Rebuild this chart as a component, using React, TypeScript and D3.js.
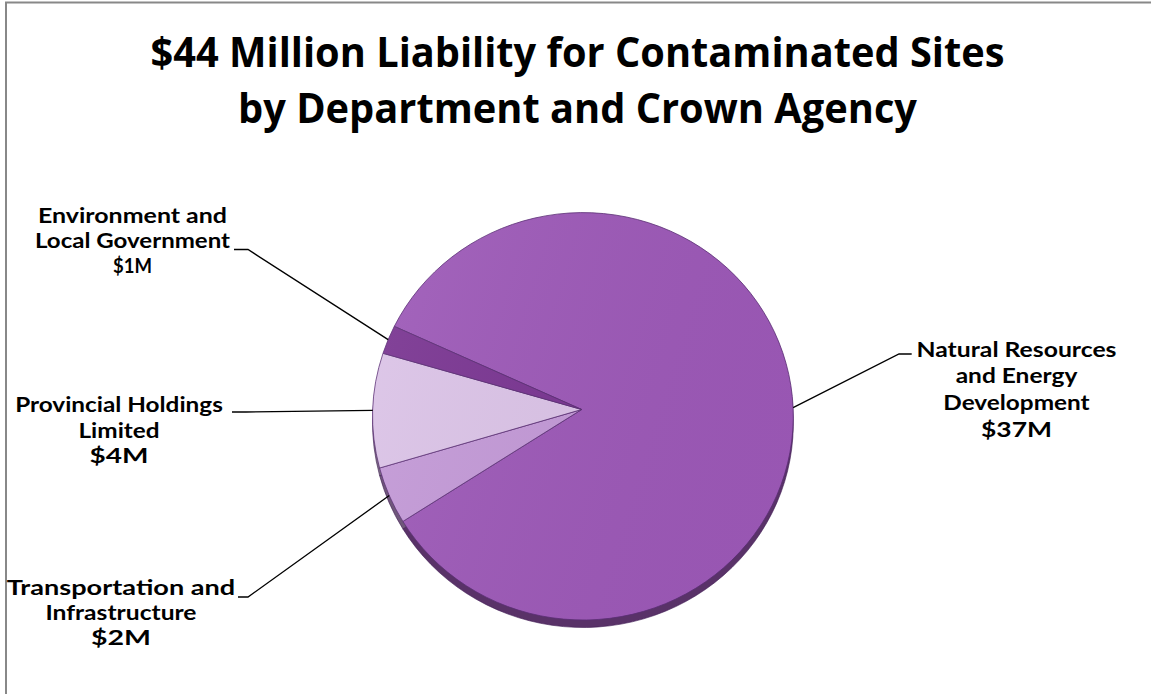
import React from "react";
import * as d3 from "d3";

// ---- Data ----
const titleLines = ["$44 Million Liability for Contaminated Sites", "by Department and Crown Agency"];
const categories = [
  "Natural Resources and Energy Development",
  "Transportation and Infrastructure",
  "Provincial Holdings Limited",
  "Environment and Local Government",
];
const values = [37, 2, 4, 1];
const valueLabels = ["$37M", "$2M", "$4M", "$1M"];
const labelLines = [
  ["Natural Resources", "and Energy", "Development"],
  ["Transportation and", "Infrastructure"],
  ["Provincial Holdings", "Limited"],
  ["Environment and", "Local Government"],
];
const sliceColors = ["#9d59b8", "#c49ad8", "#dcc4e8", "#7a3592"];

// ---- Layout ----
const W = 1151;
const H = 694;
const CX = 583;
const CY = 416.3;
const RX = 210.3;
const RY = 203.7;
const APEX = { x: 581.7, y: 409.5 };
const DEPTH = 7.5;
const START = (-63.8 * Math.PI) / 180;
const TITLE_FONT = "'Open Sans', 'Liberation Sans', sans-serif";
const LABEL_FONT = "Lato, 'Open Sans', 'Liberation Sans', sans-serif";

// label layout: centre x, first baseline, line gap, per-line widths, leader anchor
const labelLayout = [
  { cx: 1016.5, y0: 356.7, gap: 26.7, widths: [200, 121.7, 146.3, 71], dash: [911.7, 899, 354] },
  { cx: 121, y0: 595, gap: 25.2, widths: [228.3, 151, 60], dash: [238, 248, 597] },
  { cx: 119, y0: 412.3, gap: 25.5, widths: [207.7, 81, 59], dash: [232, 246, 412] },
  { cx: 132.5, y0: 222.5, gap: 25.3, widths: [189, 195, 39], dash: [234, 248, 249.5] },
];

function ellPt(a: number, dy = 0): [number, number] {
  return [CX + RX * Math.sin(a), CY - RY * Math.cos(a) + dy];
}

function slicePath(a0: number, a1: number, dy = 0): string {
  const p0 = ellPt(a0, dy);
  const p1 = ellPt(a1, dy);
  const large = a1 - a0 > Math.PI ? 1 : 0;
  return `M${APEX.x},${APEX.y + dy}L${p0[0]},${p0[1]}A${RX},${RY} 0 ${large} 1 ${p1[0]},${p1[1]}Z`;
}

export default function App() {
  const arcs = d3
    .pie<number>()
    .sort(null)
    .startAngle(START)
    .endAngle(START + 2 * Math.PI)(values);

  const titleWidths = [854, 679];

  return (
    <svg
      width={W}
      height={H}
      style={{ position: "absolute", left: 0, top: 0, background: "#fff" }}
    >
      <defs>
        <linearGradient id="sheen" x1="0" y1="0" x2="1" y2="0.3">
          <stop offset="0" stopColor="#fff" stopOpacity={0.08} />
          <stop offset="1" stopColor="#000" stopOpacity={0.03} />
        </linearGradient>
      </defs>
      <rect x={6} y={2.5} width={W + 20} height={H + 20} fill="#fff" stroke="#888" strokeWidth={2} />

      {titleLines.map((t, i) => (
        <text
          key={i}
          x={577.5}
          y={67.3 + i * 56}
          textAnchor="middle"
          fontFamily={TITLE_FONT}
          fontSize={40.5}
          fontWeight={700}
          fill="#000"
          textLength={titleWidths[i]}
          lengthAdjust="spacingAndGlyphs"
        >
          {t}
        </text>
      ))}

      {/* side (depth) */}
      <g>
        {arcs.map((a, i) => (
          <path
            key={"s" + i}
            d={slicePath(a.startAngle, a.endAngle, DEPTH)}
            fill={d3.color(sliceColors[i])!.darker(1.6).formatHex()}
            stroke="#3e1a52"
            strokeWidth={0.6}
          />
        ))}
      </g>
      {/* top faces */}
      <g>
        {arcs.map((a, i) => (
          <path
            key={"t" + i}
            d={slicePath(a.startAngle, a.endAngle)}
            fill={sliceColors[i]}
            stroke="#5b2d75"
            strokeWidth={0.8}
            strokeLinejoin="round"
          />
        ))}
        <ellipse cx={CX} cy={CY} rx={RX} ry={RY} fill="url(#sheen)" pointerEvents="none" />
      </g>

      {/* leader lines */}
      {arcs.map((a, i) => {
        const mid = (a.startAngle + a.endAngle) / 2;
        const [ex, ey] = ellPt(mid);
        const [dx0, dx1, dy] = labelLayout[i].dash;
        return (
          <polyline
            key={"l" + i}
            points={`${dx0},${dy} ${dx1},${dy} ${ex},${ey}`}
            fill="none"
            stroke="#000"
            strokeWidth={1.3}
          />
        );
      })}

      {/* labels */}
      {arcs.map((a, i) => {
        const L = labelLayout[i];
        const lines = [...labelLines[i], valueLabels[i]];
        return (
          <g key={"lab" + i}>
            {lines.map((ln, j) => (
              <text
                key={j}
                x={L.cx}
                y={L.y0 + j * L.gap}
                textAnchor="middle"
                fontFamily={LABEL_FONT}
                fontSize={20.8}
                fontWeight={700}
                fill="#000"
                textLength={L.widths[j]}
                lengthAdjust="spacingAndGlyphs"
              >
                {ln}
              </text>
            ))}
          </g>
        );
      })}
    </svg>
  );
}
